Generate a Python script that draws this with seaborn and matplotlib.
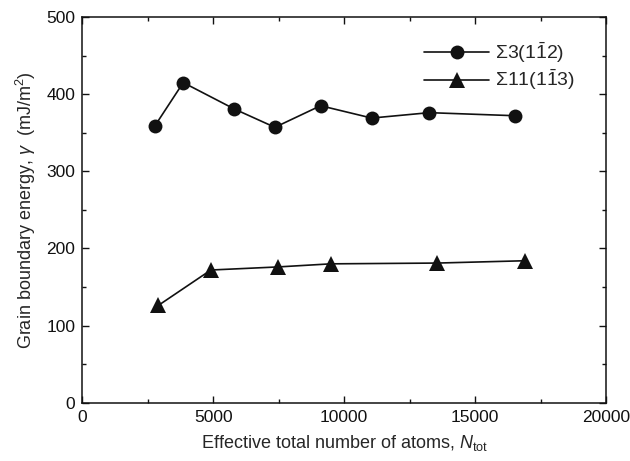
import numpy as np
import pandas as pd
import matplotlib
matplotlib.use("Agg")
import matplotlib.pyplot as plt
from matplotlib.ticker import MultipleLocator
import seaborn as sns

# Sigma3 grain boundary
n_s3 = [2775, 3855, 5790, 7355, 9100, 11050, 13250, 16540]
e_s3 = [359, 415, 381, 357, 385, 369, 376, 372]

# Sigma11 grain boundary
n_s11 = [2900, 4910, 7480, 9490, 13540, 16890]
e_s11 = [126, 172, 176, 180, 181, 184]

labels = [r"$\Sigma3(1\bar{1}2)$", r"$\Sigma11(1\bar{1}3)$"]

sns.set_style("ticks")
plt.rcParams["font.family"] = ["Liberation Sans", "DejaVu Sans"]
plt.rcParams["mathtext.fontset"] = "custom"
plt.rcParams["mathtext.rm"] = "Liberation Sans"
plt.rcParams["mathtext.it"] = "Liberation Sans:italic"
plt.rcParams["mathtext.bf"] = "Liberation Sans:bold"

df3 = pd.DataFrame({"N": n_s3, "E": e_s3})
df11 = pd.DataFrame({"N": n_s11, "E": e_s11})

fig = plt.figure(figsize=(6.3, 4.61), dpi=100)
ax = fig.add_axes([0.1306, 0.1265, 0.8314, 0.8366])

sns.lineplot(data=df3, x="N", y="E", ax=ax, color="#111111", marker="o",
             markersize=10, markeredgewidth=0, linewidth=1.2, label=labels[0])
sns.lineplot(data=df11, x="N", y="E", ax=ax, color="#111111", marker="^",
             markersize=11, markeredgewidth=0, linewidth=1.2, label=labels[1])

ax.set_xlim(0, 20000)
ax.set_ylim(0, 500)
ax.xaxis.set_major_locator(MultipleLocator(5000))
ax.xaxis.set_minor_locator(MultipleLocator(2500))
ax.yaxis.set_major_locator(MultipleLocator(100))
ax.yaxis.set_minor_locator(MultipleLocator(50))
ax.tick_params(which="both", direction="in", top=True, right=True,
               labelsize=12.5, colors="#111111", width=1)
ax.tick_params(which="major", length=5, pad=5)
ax.tick_params(which="minor", length=3)
for s in ax.spines.values():
    s.set_linewidth(1.1)
    s.set_color("#111111")

ax.set_xlabel(r"Effective total number of atoms, $N_{\mathrm{tot}}$", fontsize=13, labelpad=6)
ax.set_ylabel(r"Grain boundary energy, $\gamma$  (mJ/m$^2$)", fontsize=13, labelpad=6)

leg = ax.legend(loc="upper right", bbox_to_anchor=(0.975, 0.985), frameon=False,
                fontsize=14, handlelength=3.3, handletextpad=0.35,
                labelspacing=0.15)

fig.savefig("out.png", dpi=100)
